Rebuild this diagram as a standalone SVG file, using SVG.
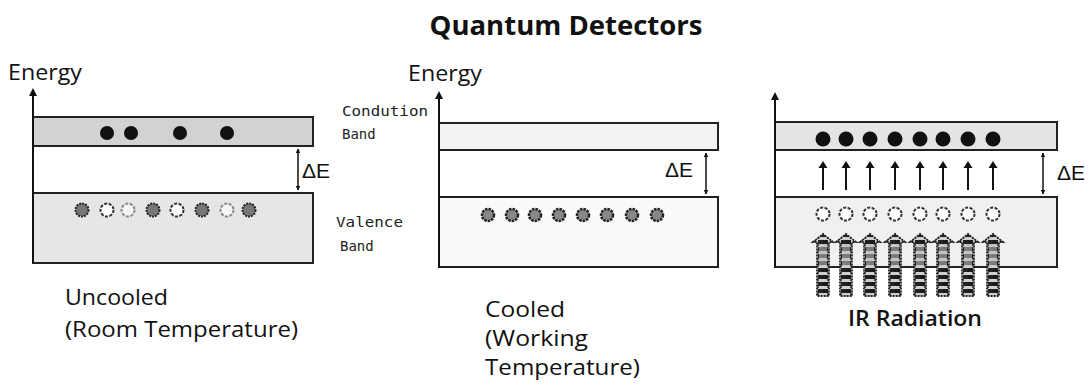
<svg xmlns="http://www.w3.org/2000/svg" width="1089" height="387" viewBox="0 0 1089 387">
<style>
.t{font-family:"Open Sans","Liberation Sans",sans-serif;fill:#111}
.lbl{font-size:21px}
.ttl{font-size:26px;font-weight:bold}
.ir{font-size:21px;font-weight:600}
.de{font-family:"Liberation Sans",Arial,sans-serif;font-size:21px;fill:#111}
.mono{font-family:"DejaVu Sans Mono","Liberation Mono",monospace;font-size:14px;fill:#222}
.band{stroke:#222;stroke-width:2}
.axis{stroke:#111;stroke-width:2;fill:none}
.gap{stroke:#111;stroke-width:1.5;fill:none}
.e{fill:#111}
.hd{fill:#777;stroke:#222;stroke-width:2;stroke-dasharray:2 1}
.ho{fill:#fff;stroke:#333;stroke-width:2;stroke-dasharray:3 1.5}
.hl{fill:#f4f4f4;stroke:#888;stroke-width:2;stroke-dasharray:3 1.5}
.h2{fill:#888;stroke:#222;stroke-width:2.5;stroke-dasharray:2.5 1}
.up{stroke:#111;stroke-width:2}
</style>
<defs>
<marker id="ah" viewBox="0 0 10 10" refX="5" refY="5" markerWidth="4" markerHeight="4" orient="auto-start-reverse"><path d="M0,0 L10,5 L0,10 z" fill="#111"/></marker>
<marker id="ahs" viewBox="0 0 10 10" refX="9" refY="5" markerWidth="3" markerHeight="3" orient="auto-start-reverse"><path d="M0,0 L10,5 L0,10 z" fill="#111"/></marker>
<pattern id="chk" width="12" height="7" patternUnits="userSpaceOnUse">
<rect width="12" height="7" fill="#cfcfcf"/>
<rect x="0" y="0" width="5" height="4" fill="#1a1a1a"/>
<rect x="7" y="0" width="5" height="4" fill="#222"/>
<rect x="4" y="4" width="4" height="2" fill="#555"/>
</pattern>
<g id="irA">
<polygon points="-10,9 0,1 10,9 6,9 6,63 -6,63 -6,9" fill="url(#chk)" stroke="#222" stroke-width="1.8" stroke-dasharray="2 1"/>
<rect x="-4" y="11" width="8" height="22" fill="#bbb" opacity="0.6"/>
</g>
<g id="upA">
<path d="M0,1 L-4.5,8 L4.5,8 z" fill="#111"/>
<line x1="0" y1="8" x2="0" y2="30" class="up"/>
</g>
</defs>

<g id="title"><text class="t ttl" x="566" y="35" text-anchor="middle" textLength="273" lengthAdjust="spacingAndGlyphs">Quantum Detectors</text></g>

<!-- Panel 1 -->
<g id="panel-uncooled">
<text class="t lbl" x="8" y="80" textLength="74" lengthAdjust="spacingAndGlyphs">Energy</text>
<rect class="band" x="33" y="117" width="280" height="29" fill="#d2d2d2"/>
<rect class="band" x="33" y="193" width="280" height="70" fill="#e6e6e6"/>
<line class="axis" x1="33" y1="263" x2="33" y2="92" marker-end="url(#ah)"/>
<line class="gap" x1="298" y1="149" x2="298" y2="190" marker-start="url(#ahs)" marker-end="url(#ahs)"/>
<text class="de" x="302" y="178">ΔE</text>
<circle class="e" cx="107" cy="133" r="7"/>
<circle class="e" cx="131" cy="133" r="7"/>
<circle class="e" cx="180" cy="133" r="7"/>
<circle class="e" cx="227" cy="133" r="7"/>
<circle class="hd" cx="82" cy="210" r="6.5"/>
<circle class="ho" cx="107" cy="210" r="6.5"/>
<circle class="hl" cx="128" cy="210" r="6.5"/>
<circle class="hd" cx="153" cy="210" r="6.5"/>
<circle class="ho" cx="177" cy="210" r="6.5"/>
<circle class="hd" cx="202" cy="210" r="6.5"/>
<circle class="hl" cx="227" cy="210" r="6.5"/>
<circle class="hd" cx="249" cy="210" r="6.5"/>
<text class="t lbl" x="65" y="305" textLength="103" lengthAdjust="spacingAndGlyphs">Uncooled</text>
<text class="t lbl" x="65" y="337" textLength="233" lengthAdjust="spacingAndGlyphs">(Room Temperature)</text>
</g>

<!-- Panel 2 -->
<g id="panel-cooled">
<text class="t lbl" x="408" y="81" textLength="74" lengthAdjust="spacingAndGlyphs">Energy</text>
<text class="mono" x="342" y="116" textLength="86" lengthAdjust="spacingAndGlyphs">Condution</text>
<text class="mono" x="342" y="139">Band</text>
<text class="mono" x="336" y="227" textLength="67" lengthAdjust="spacingAndGlyphs">Valence</text>
<text class="mono" x="340" y="251">Band</text>
<rect class="band" x="439" y="123" width="279" height="27" fill="#f3f3f3"/>
<rect class="band" x="439" y="197" width="279" height="70" fill="#fafafa"/>
<line class="axis" x1="439" y1="268" x2="439" y2="95" marker-end="url(#ah)"/>
<line class="gap" x1="706" y1="153" x2="706" y2="194" marker-start="url(#ahs)" marker-end="url(#ahs)"/>
<text class="de" x="665" y="177">ΔE</text>
<circle class="h2" cx="488" cy="215" r="6"/>
<circle class="h2" cx="512" cy="215" r="6"/>
<circle class="h2" cx="535" cy="215" r="6"/>
<circle class="h2" cx="559" cy="215" r="6"/>
<circle class="h2" cx="583" cy="215" r="6"/>
<circle class="h2" cx="607" cy="215" r="6"/>
<circle class="h2" cx="632" cy="215" r="6"/>
<circle class="h2" cx="657" cy="215" r="6"/>
<text class="t lbl" x="485" y="317" textLength="80" lengthAdjust="spacingAndGlyphs">Cooled</text>
<text class="t lbl" x="485" y="346" textLength="103" lengthAdjust="spacingAndGlyphs">(Working</text>
<text class="t lbl" x="485" y="375" textLength="155" lengthAdjust="spacingAndGlyphs">Temperature)</text>
</g>

<!-- Panel 3 -->
<g id="panel-ir">
<rect class="band" x="775" y="122" width="282" height="28" fill="#e4e4e4"/>
<rect class="band" x="775" y="197" width="282" height="70" fill="#f0f0f0"/>
<line class="axis" x1="775" y1="267" x2="775" y2="96" marker-end="url(#ah)"/>
<line class="gap" x1="1043" y1="153" x2="1043" y2="194" marker-start="url(#ahs)" marker-end="url(#ahs)"/>
<text class="de" x="1057" y="180">ΔE</text>
<g id="electrons3">
<circle class="e" cx="823" cy="139" r="7.5"/>
<circle class="e" cx="846" cy="139" r="7.5"/>
<circle class="e" cx="870" cy="139" r="7.5"/>
<circle class="e" cx="895" cy="139" r="7.5"/>
<circle class="e" cx="920" cy="139" r="7.5"/>
<circle class="e" cx="943" cy="139" r="7.5"/>
<circle class="e" cx="968" cy="139" r="7.5"/>
<circle class="e" cx="993" cy="139" r="7.5"/>
</g>
<g id="jumps">
<use href="#upA" x="823" y="160"/>
<use href="#upA" x="846" y="160"/>
<use href="#upA" x="870" y="160"/>
<use href="#upA" x="895" y="160"/>
<use href="#upA" x="920" y="160"/>
<use href="#upA" x="943" y="160"/>
<use href="#upA" x="968" y="160"/>
<use href="#upA" x="993" y="160"/>
</g>
<g id="holes3">
<circle class="ho" cx="823" cy="214" r="6.5"/>
<circle class="ho" cx="846" cy="214" r="6.5"/>
<circle class="ho" cx="870" cy="214" r="6.5"/>
<circle class="ho" cx="895" cy="214" r="6.5"/>
<circle class="ho" cx="920" cy="214" r="6.5"/>
<circle class="ho" cx="943" cy="214" r="6.5"/>
<circle class="ho" cx="968" cy="214" r="6.5"/>
<circle class="ho" cx="993" cy="214" r="6.5"/>
</g>
<g id="ir-arrows">
<use href="#irA" x="823" y="233"/>
<use href="#irA" x="846" y="233"/>
<use href="#irA" x="870" y="233"/>
<use href="#irA" x="895" y="233"/>
<use href="#irA" x="920" y="233"/>
<use href="#irA" x="943" y="233"/>
<use href="#irA" x="968" y="233"/>
<use href="#irA" x="993" y="233"/>
</g>
<text class="t ir" x="915" y="326" text-anchor="middle" textLength="134" lengthAdjust="spacingAndGlyphs">IR Radiation</text>
</g>
</svg>
